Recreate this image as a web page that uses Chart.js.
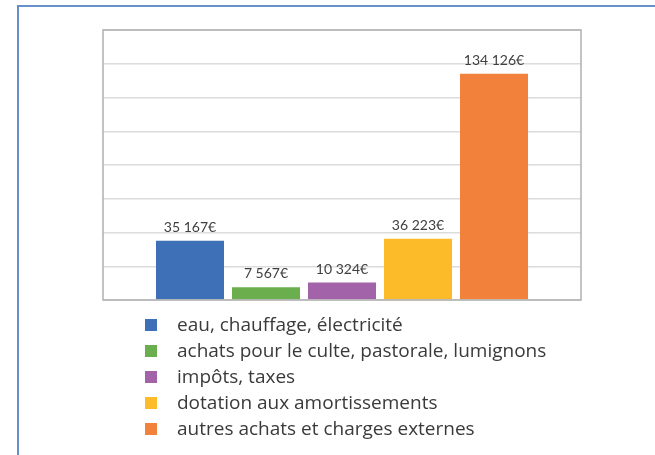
<!DOCTYPE html>
<html lang="fr">
<head>
<meta charset="utf-8">
<script src="https://cdn.jsdelivr.net/npm/chart.js@4"></script>
<style>
  html, body { margin: 0; padding: 0; background: #fff; }
  #wrap { position: relative; width: 655px; height: 455px; overflow: hidden; }
  #frame { position: absolute; left: 17px; top: 5px; width: 700px; height: 500px;
           border-left: 2.5px solid #6690cc; border-top: 2.5px solid #6690cc; }
  canvas { position: absolute; left: 0; top: 0; }
</style>
</head>
<body>
<div id="wrap">
  <div id="frame"></div>
  <canvas id="chart" width="655" height="455"></canvas>
</div>
<script>
// Charges de fonctionnement — un seul groupe de colonnes, une série par poste
const SERIES_NAMES = [
  "eau, chauffage, électricité",
  "achats pour le culte, pastorale, lumignons",
  "impôts, taxes",
  "dotation aux amortissements",
  "autres achats et charges externes",
];
const SERIES_VALUES = [35167, 7567, 10324, 36223, 134126];
const SERIES_COLORS = ["#3e70b8", "#6aae4e", "#a263a9", "#fcbc2a", "#f2823b"];
const Y_MAX = 160000;
const Y_STEP = 20000;

function euro(n) {
  return String(n).replace(/\B(?=(\d{3})+(?!\d))/g, " ") + "€";
}

// étiquettes de valeur au-dessus des barres
const valueLabels = {
  id: "valueLabels",
  afterDatasetsDraw(chart) {
    const ctx = chart.ctx;
    ctx.save();
    ctx.font = "14px Lato";
    ctx.fillStyle = "#404040";
    ctx.textAlign = "center";
    ctx.textBaseline = "alphabetic";
    chart.data.datasets.forEach((ds, i) => {
      const bar = chart.getDatasetMeta(i).data[0];
      ctx.fillText(euro(ds.data[0]), bar.x, bar.y - 9);
    });
    ctx.restore();
  },
};

// cadre gris autour de la zone de tracé
const plotFrame = {
  id: "plotFrame",
  afterDraw(chart) {
    const a = chart.chartArea;
    const ctx = chart.ctx;
    ctx.save();
    ctx.strokeStyle = "#b0b0b0";
    ctx.lineWidth = 1.5;
    ctx.strokeRect(a.left, a.top, a.right - a.left, a.bottom - a.top);
    ctx.restore();
  },
};

// légende verticale sous le graphique
const listLegend = {
  id: "listLegend",
  afterDraw(chart) {
    const ctx = chart.ctx;
    ctx.save();
    ctx.font = "19px 'Open Sans'";
    ctx.textBaseline = "middle";
    chart.data.datasets.forEach((ds, i) => {
      const y = 325 + i * 26;
      ctx.fillStyle = ds.backgroundColor;
      ctx.fillRect(145, y - 6, 12, 12);
      ctx.fillStyle = "#3a3a3a";
      ctx.fillText(ds.label, 177, y + 1);
    });
    ctx.restore();
  },
};

new Chart(document.getElementById("chart"), {
  type: "bar",
  data: {
    labels: [""],
    datasets: SERIES_NAMES.map((name, i) => ({
      label: name,
      data: [SERIES_VALUES[i]],
      backgroundColor: SERIES_COLORS[i],
      borderWidth: 0,
      categoryPercentage: 0.795,
      barPercentage: 0.895,
    })),
  },
  options: {
    responsive: false,
    animation: false,
    layout: { padding: { left: 103, top: 30, right: 74, bottom: 155 } },
    plugins: { legend: { display: false }, tooltip: { enabled: false } },
    scales: {
      x: {
        ticks: { display: false },
        grid: { display: false, drawTicks: false },
        border: { display: false },
      },
      y: {
        min: 0,
        max: Y_MAX,
        ticks: { display: false, stepSize: Y_STEP },
        grid: { color: "#dcdcdc", lineWidth: 1.5, drawTicks: false },
        border: { display: false },
      },
    },
  },
  plugins: [valueLabels, plotFrame, listLegend],
});
</script>
</body>
</html>
